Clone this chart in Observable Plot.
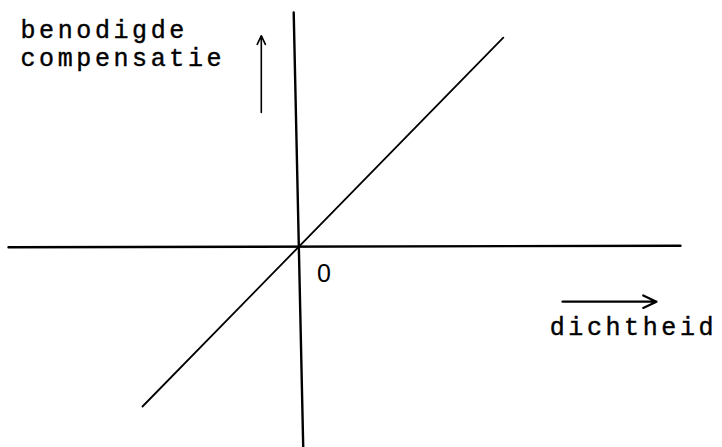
<!DOCTYPE html>
<html><head><meta charset="utf-8">
<script src="https://cdn.jsdelivr.net/npm/d3@7"></script>
<script src="https://cdn.jsdelivr.net/npm/@observablehq/plot@0.6"></script>
<style>body{margin:0;background:#fff}</style>
</head><body><div id="chart"></div>
<script>
// Data (in diagram units; origin at 0,0)
const diagonal = [{x: -3.9, y: -4.0}, {x: 5.12, y: 5.22}];
const hAxis = [{x: -7.25, y: -0.02}, {x: 9.55, y: 0.02}];
const vAxis = [{x: -0.12, y: 5.85}, {x: 0.12, y: -5.1}];
const yArrow = [{x1: -0.93, y1: 3.35, x2: -0.93, y2: 5.27}];
const xArrow = [{x1: 6.6, y1: -1.38, x2: 8.95, y2: -1.38}];
const yLabels = [
  {x: -6.95, y: 5.42, text: "benodigde"},
  {x: -6.95, y: 4.72, text: "compensatie"}
];
const xLabels = [{x: 6.28, y: -2.0, text: "dichtheid"}];
const originLabel = [{x: 0.68, y: -0.68, text: "0"}];

const font = "'Liberation Mono', 'DejaVu Sans Mono', monospace";
const chart = Plot.plot({
  width: 722, height: 447,
  margin: 0,
  x: {domain: [-7.45, 10.6], axis: null},
  y: {domain: [-5.025, 6.15], axis: null},
  style: {fontFamily: font, background: "#fff"},
  marks: [
    Plot.line(hAxis, {x: "x", y: "y", stroke: "#000", strokeWidth: 2.4}),
    Plot.line(vAxis, {x: "x", y: "y", stroke: "#000", strokeWidth: 2.4}),
    Plot.line(diagonal, {x: "x", y: "y", stroke: "#000", strokeWidth: 1.8}),
    Plot.arrow(yArrow, {x1: "x1", y1: "y1", x2: "x2", y2: "y2", stroke: "#000", strokeWidth: 1.6, headLength: 9, headAngle: 50}),
    Plot.arrow(xArrow, {x1: "x1", y1: "y1", x2: "x2", y2: "y2", stroke: "#000", strokeWidth: 2.2, headLength: 10, headAngle: 50}),
    Plot.text(yLabels, {x: "x", y: "y", text: "text", textAnchor: "start", lineAnchor: "middle", fontSize: 25, fill: "#000", stroke: "#000", strokeWidth: 0.4}),
    Plot.text(xLabels, {x: "x", y: "y", text: "text", textAnchor: "start", lineAnchor: "middle", fontSize: 25, fill: "#000", stroke: "#000", strokeWidth: 0.4}),
    Plot.text(originLabel, {x: "x", y: "y", text: "text", lineAnchor: "middle", fontSize: 25, fill: "#000", fontFamily: "'Liberation Sans', sans-serif"})
  ]
});
chart.querySelectorAll("text").forEach(t => t.setAttribute("letter-spacing", "3.6px"));
document.getElementById("chart").appendChild(chart);
</script>
</body></html>
